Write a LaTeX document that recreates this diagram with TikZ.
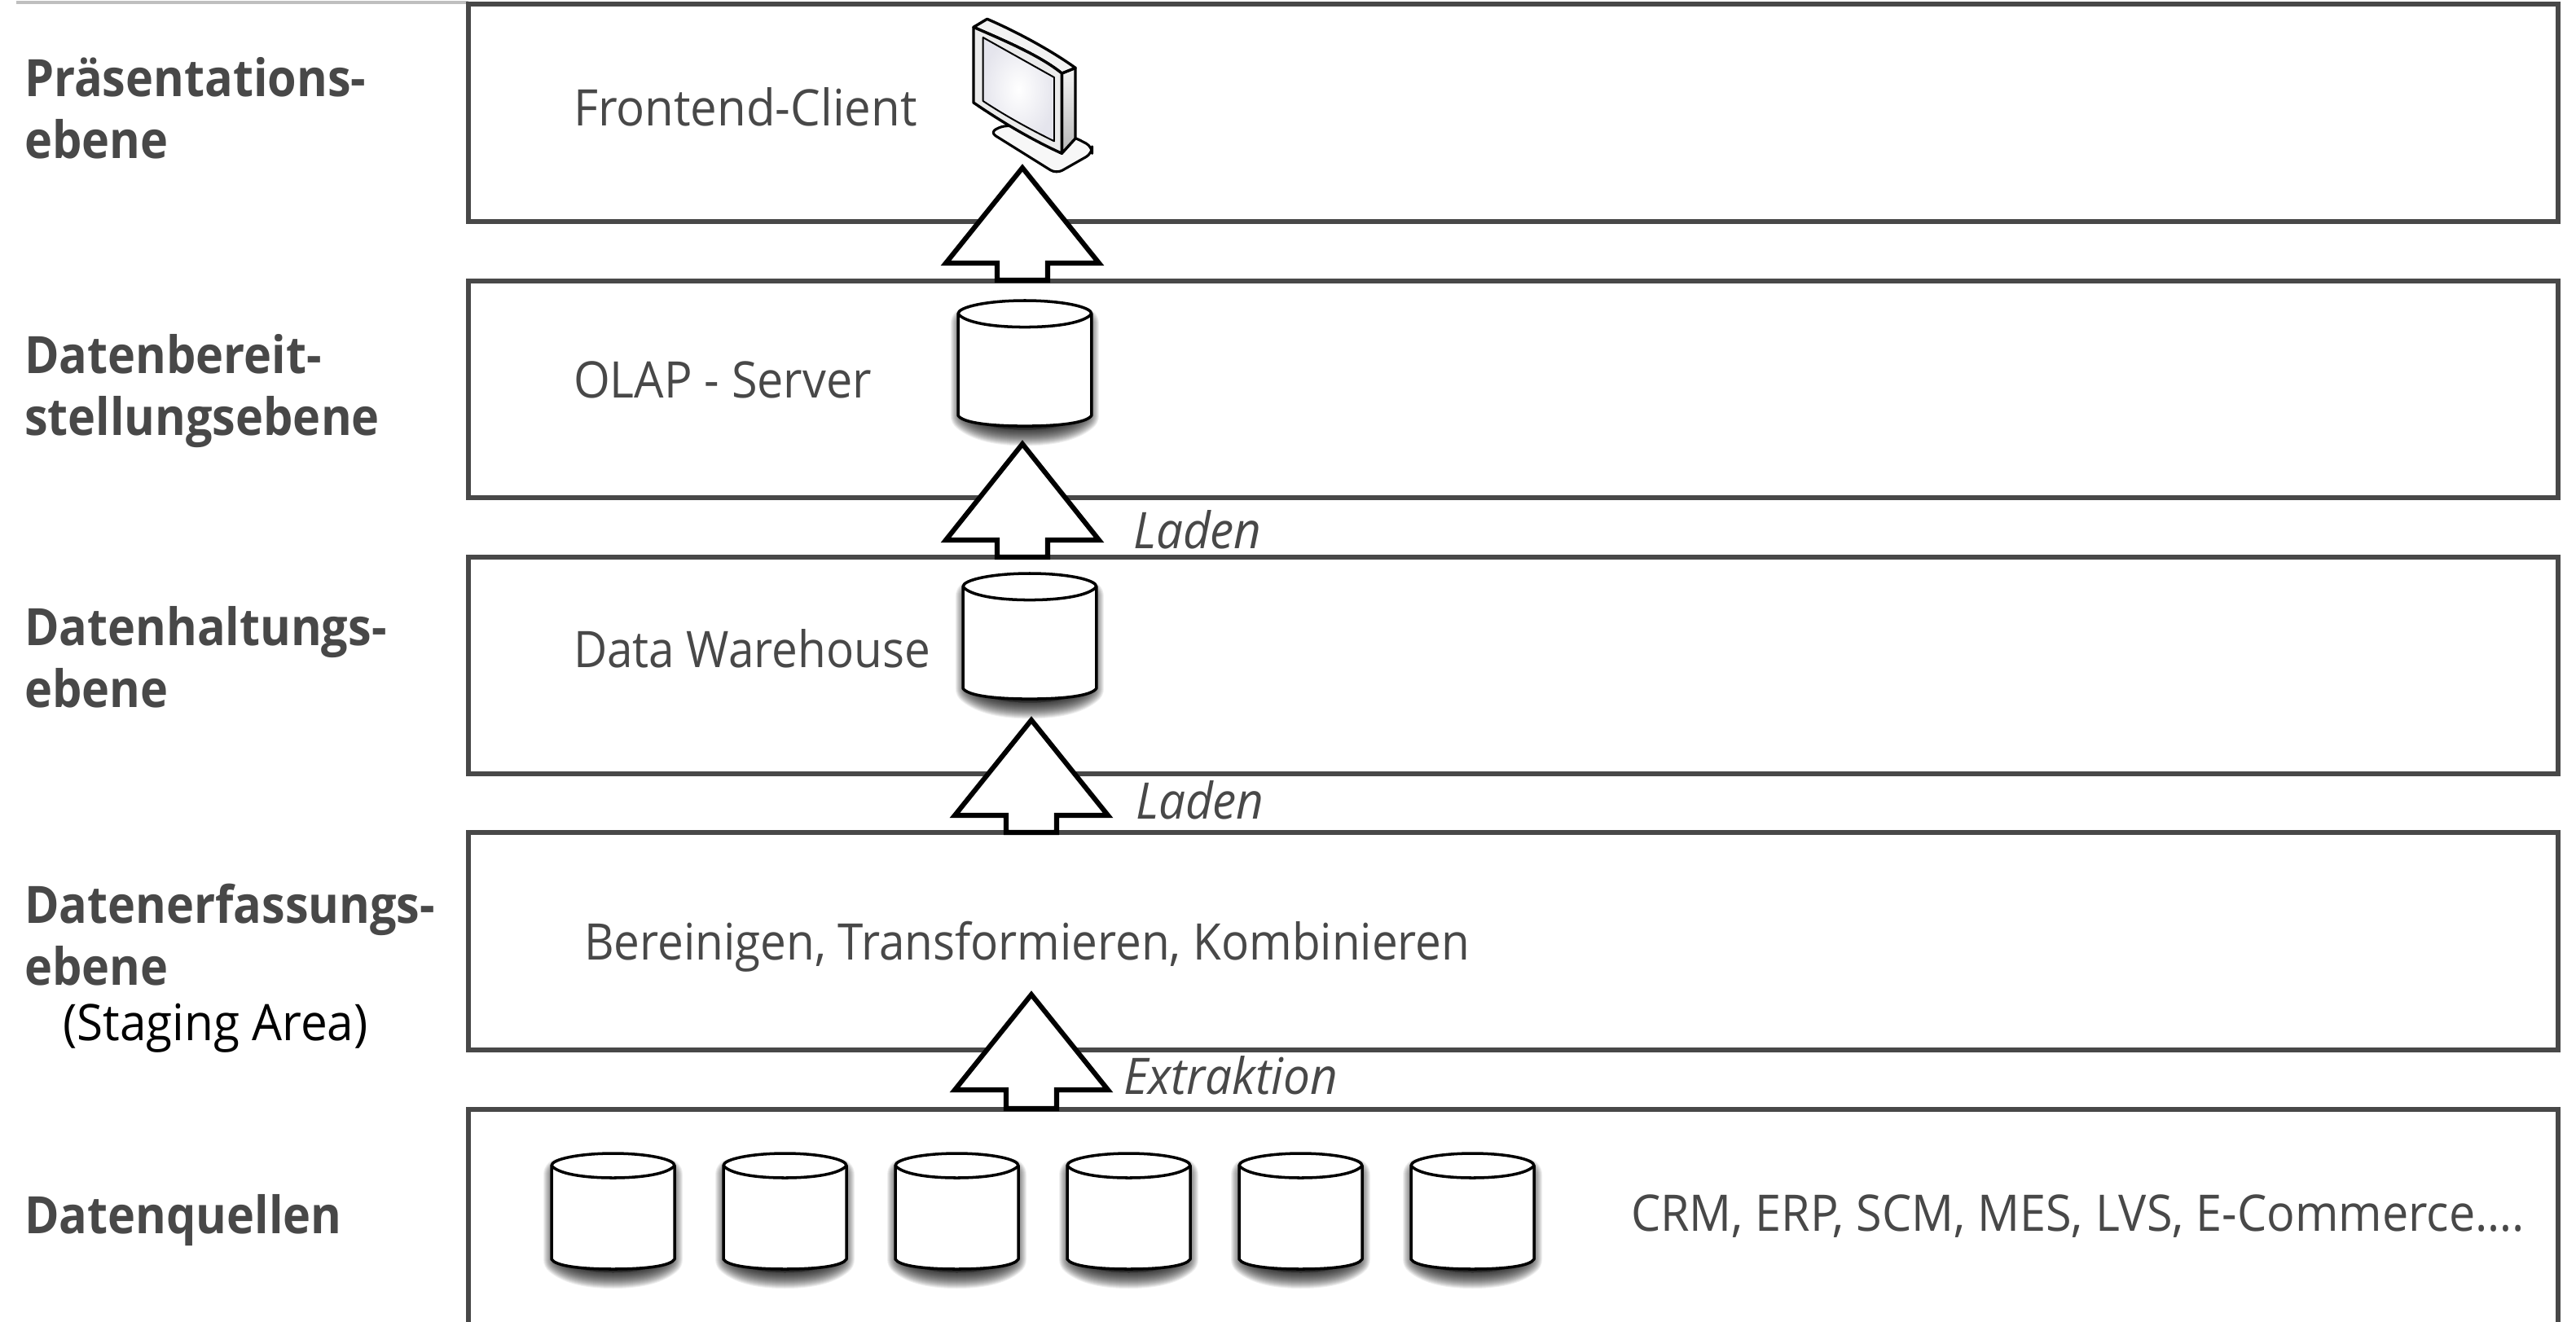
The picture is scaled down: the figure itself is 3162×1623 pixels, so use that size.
\documentclass[tikz,border=0pt]{standalone}
\usepackage{fontspec}
\setmainfont{Open Sans}
\newfontfamily\regf[FakeStretch=0.93]{Open Sans}
\newfontfamily\regw[FakeStretch=0.94]{Open Sans}
\newfontfamily\regn[FakeStretch=0.915]{Open Sans}
\newfontfamily\stagf[FakeStretch=0.945]{Open Sans}
\newfontfamily\itf[FakeStretch=0.945,ItalicFont={Open Sans Italic}]{Open Sans}
\newfontfamily\bff[FakeStretch=0.91]{Open Sans Bold}
\definecolor{ink}{HTML}{484848}
\tikzset{
  every node/.style={inner sep=0pt,outer sep=0pt,anchor=base west},
  layerline/.style={draw=ink,line width=3.8pt},
  lvl/.style={text=ink,font=\bff\fontsize{45}{45}\selectfont},
  txt/.style={text=ink,font=\regf\fontsize{44}{44}\selectfont},
  txtw/.style={text=ink,font=\regw\fontsize{44}{44}\selectfont},
  txtn/.style={text=ink,font=\regn\fontsize{44}{44}\selectfont},
  ittxt/.style={text=ink,font=\itf\itshape\fontsize{44}{44}\selectfont},
  blockarrow/.style={draw=black,fill=white,line width=4.3pt,miter limit=10},
  dbline/.style={draw=black,fill=white,line width=2.5pt,line join=round},
  dbcyl/.pic={
    \foreach \w in {40,38,...,2}{
      \draw[draw=black,fill=black,draw opacity=.06,fill opacity=.02,line width=.711pt*\w,line join=round]
        (10,26) -- (141,26) -- (141,130)
        .. controls (128,141) and (105,146) .. (75.5,146)
        .. controls (46,146) and (23,141) .. (10,130) -- cycle;
    }
    \path[dbline] (0,15) .. controls (0,7) and (34,0) .. (75.5,0)
       .. controls (117,0) and (151,7) .. (151,15) -- (151,130)
       .. controls (146,138) and (117,142) .. (75.5,142)
       .. controls (34,142) and (5,138) .. (0,130) -- cycle;
    \path[draw=black,line width=2.5pt] (0,15) .. controls (8,25) and (39,30) .. (75.5,30)
       .. controls (112,30) and (143,25) .. (151,15);
  }
}
\newcommand{\bigarrow}[4]{% centre x, tip y, head base y, bottom y
  \path[blockarrow] (#1,#2) -- (#1+94,#3) -- (#1+31,#3) -- (#1+31,#4) -- (#1-31,#4) -- (#1-31,#3) -- (#1-94,#3) -- cycle;}
\begin{document}
\begin{tikzpicture}[x=0.25mm,y=-0.25mm]
\useasboundingbox (0,0) rectangle (3162,1623);
\fill[white] (0,0) rectangle (3162,1623);
\draw[draw=black!25,line width=2.6pt] (20,3) -- (575,3);
% layers
\path[layerline] (575,5) rectangle (3140,272);
\path[layerline] (575,345) rectangle (3140,611);
\path[layerline] (575,684) rectangle (3140,950);
\path[layerline] (575,1022) rectangle (3140,1289);
\path[layerline] (575,1640) -- (575,1362) -- (3140,1362) -- (3140,1640);
% database cylinders
\pic[xscale=1.085,yscale=1.085] (olap) at (1176,369) {dbcyl};
\pic[xscale=1.085,yscale=1.085] (dwh) at (1182,704) {dbcyl};
\foreach \n/\x in {a/677,b/888,c/1099,d/1310,e/1521,f/1732}{
  \pic (src\n) at (\x,1416) {dbcyl};
}
% block arrows
\bigarrow{1255}{206}{323}{344}
\bigarrow{1255}{545}{663}{684}
\bigarrow{1266}{884}{1001}{1022}
\bigarrow{1266}{1221}{1338}{1361}
% monitor
\begin{scope}[shift={(1100,0)},scale=1/3,line join=round]
  \path[draw=black,line width=2.2pt,fill=black!3,rounded corners=6pt]
    (400,460) -- (345,487) -- (590,640) -- (722,565) -- (722,540) -- (655,505) -- cycle;
  \path[draw=black,line width=2.4pt,top color=black!4,bottom color=black!28]
    (610,270) -- (660,250) -- (660,510) -- (610,565) -- cycle;
  \path[draw=black,line width=2.4pt,fill=black!5]
    (285,100) -- (335,70) .. controls (440,115) and (570,185) .. (660,250) -- (610,270)
    .. controls (530,205) and (400,150) .. (285,100) -- cycle;
  \path[draw=black,line width=2.4pt,fill=black!8]
    (285,100) .. controls (400,150) and (530,205) .. (610,270) -- (610,565)
    .. controls (500,515) and (390,450) .. (285,378) -- cycle;
  \path[draw=black,line width=1.4pt,inner color=white,outer color=blue!30!black!10]
    (320,138) -- (582,285) -- (582,520) .. controls (490,475) and (400,425) .. (320,372) -- cycle;
\end{scope}
% labels
\node[lvl] (l1a) at (30,119) {Präsentations-};
\node[lvl] (l1b) at (30,195) {ebene};
\node[lvl] (l2a) at (30,458) {Datenbereit-};
\node[lvl] (l2b) at (30,534) {stellungsebene};
\node[lvl] (l3a) at (30,792) {Datenhaltungs-};
\node[lvl] (l3b) at (30,868) {ebene};
\node[lvl] (l4a) at (30,1133) {Datenerfassungs-};
\node[lvl] (l4b) at (30,1209) {ebene};
\node[txt,text=black,font=\stagf\fontsize{44}{44}\selectfont] (l4c) at (77,1277) {(Staging Area)};
\node[lvl] (l5) at (30,1514) {Datenquellen};
\node[txtw] (t1) at (704,155) {Frontend-Client};
\node[txt] (t2) at (704,488) {OLAP - Server};
\node[txtn] (t3) at (704,819) {Data Warehouse};
\node[txtn] (t4) at (717,1178) {Bereinigen, Transformieren, Kombinieren};
\node[txt] (t5) at (2002,1511) {CRM, ERP, SCM, MES, LVS, E-Commerce….};
\node[ittxt] (c1) at (1391,673) {Laden};
\node[ittxt] (c2) at (1394,1005) {Laden};
\node[ittxt] (c3) at (1379,1343) {Extraktion};
\end{tikzpicture}
\end{document}
